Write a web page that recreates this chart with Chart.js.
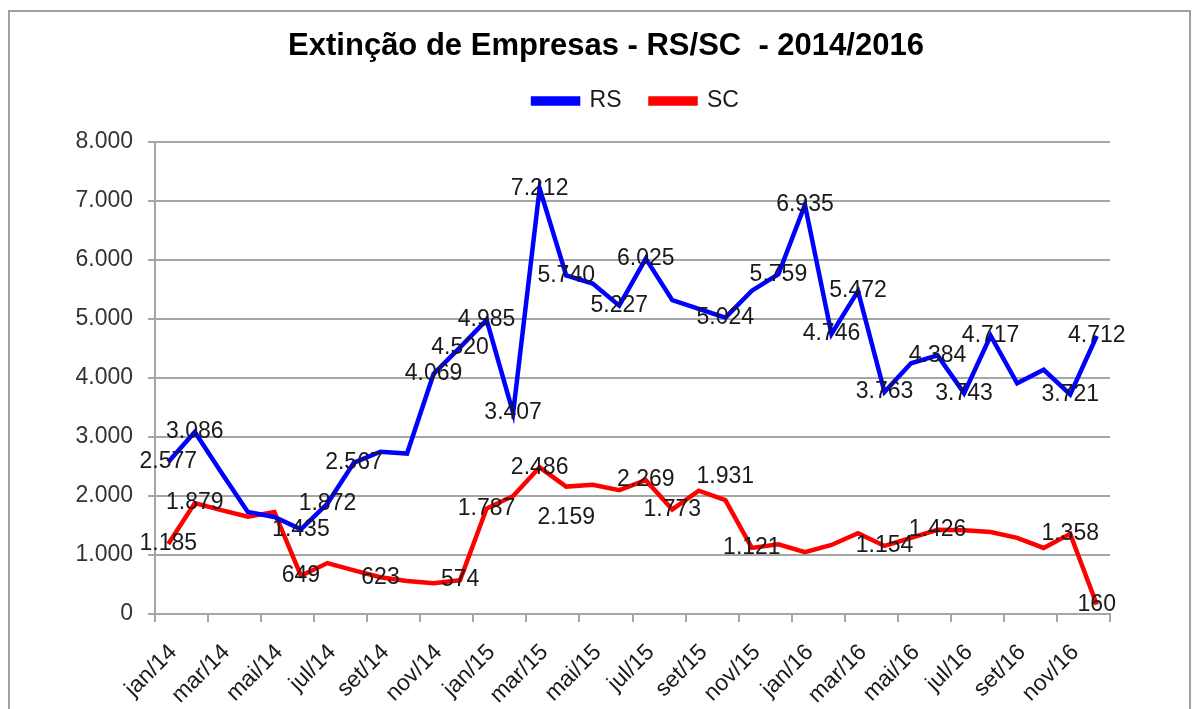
<!DOCTYPE html>
<html lang="pt-BR">
<head>
<meta charset="UTF-8">
<title>Extinção de Empresas - RS/SC - 2014/2016</title>
<script src="https://cdn.jsdelivr.net/npm/chart.js"></script>
<style>
  html, body { margin: 0; padding: 0; background: #fff; }
  #wrap { width: 1198px; height: 709px; }
</style>
</head>
<body>
<div id="wrap"><canvas id="chartCanvas" width="1198" height="709"></canvas></div>
<script>
// meses jan/14 .. dez/16
const months = [
  'jan/14','fev/14','mar/14','abr/14','mai/14','jun/14','jul/14','ago/14','set/14','out/14','nov/14','dez/14',
  'jan/15','fev/15','mar/15','abr/15','mai/15','jun/15','jul/15','ago/15','set/15','out/15','nov/15','dez/15',
  'jan/16','fev/16','mar/16','abr/16','mai/16','jun/16','jul/16','ago/16','set/16','out/16','nov/16','dez/16'
];
const rsValues = [
  2577, 3086, 2400, 1730, 1645, 1435, 1872, 2567, 2750, 2720, 4069, 4520,
  4985, 3407, 7212, 5740, 5600, 5227, 6025, 5320, 5170, 5024, 5480, 5759,
  6935, 4746, 5472, 3763, 4250, 4384, 3743, 4717, 3910, 4140, 3721, 4712
];
const scValues = [
  1185, 1879, 1760, 1650, 1730, 649, 864, 740, 623, 560, 520, 574,
  1787, 2000, 2486, 2159, 2190, 2100, 2269, 1773, 2090, 1931, 1121, 1180,
  1050, 1170, 1370, 1154, 1290, 1426, 1420, 1390, 1290, 1120, 1358, 160
];
// pontos que têm rótulo no gráfico original
const rsLabelIdx = [0,1,5,6,7,10,11,12,13,14,15,17,18,21,23,24,25,26,27,29,30,31,34,35];
const scLabelIdx = [0,1,5,8,11,12,14,15,18,19,21,22,27,29,34,35];
const yTicks = [0, 1000, 2000, 3000, 4000, 5000, 6000, 7000, 8000];

// deslocamento vertical de alguns rótulos (px)
const scLabelShift = { 15: 31, 21: -23 };

const FONT = "'Liberation Sans', Arial, sans-serif";
const GRID = '#a6a6a6';

function fmt(v) {
  return String(v).replace(/\B(?=(\d{3})+(?!\d))/g, '.');
}

const frame = {
  id: 'frame',
  beforeDraw(chart) {
    const c = chart.ctx;
    c.save();
    c.fillStyle = '#fff';
    c.fillRect(0, 0, chart.width, chart.height);
    c.strokeStyle = '#a0a0a0';
    c.lineWidth = 2;
    c.strokeRect(9, 11, 1181, 720);
    c.restore();
  }
};

// título e legenda um pouco deslocados como no original
const nudge = {
  id: 'nudge',
  afterLayout(chart) {
    const t = chart.titleBlock, l = chart.legend;
    if (t) { t.left += 51; t.right += 51; }
    if (l) { l.left += 81; l.right += 81; l.top -= 19.5; l.bottom -= 19.5; }
  }
};

const dataLabels = {
  id: 'dataLabels',
  afterDatasetsDraw(chart) {
    const c = chart.ctx;
    const sets = [[0, rsLabelIdx, {}], [1, scLabelIdx, scLabelShift]];
    c.save();
    c.font = '23px ' + FONT;
    c.fillStyle = '#1a1a1a';
    c.textAlign = 'center';
    c.textBaseline = 'middle';
    sets.forEach(([di, idx, shift]) => {
      const meta = chart.getDatasetMeta(di);
      const vals = chart.data.datasets[di].data;
      idx.forEach(i => {
        const p = meta.data[i];
        c.fillText(fmt(vals[i]), p.x, p.y + (shift[i] || 0));
      });
    });
    c.restore();
  }
};

const ctx = document.getElementById('chartCanvas').getContext('2d');
new Chart(ctx, {
  type: 'line',
  data: {
    labels: months,
    datasets: [
      {
        label: 'RS',
        data: rsValues,
        borderColor: '#0000ff',
        backgroundColor: '#0000ff',
        borderWidth: 4.5,
        pointRadius: 0,
        tension: 0,
        fill: false
      },
      {
        label: 'SC',
        data: scValues,
        borderColor: '#ff0000',
        backgroundColor: '#ff0000',
        borderWidth: 4.5,
        pointRadius: 0,
        tension: 0,
        fill: false
      }
    ]
  },
  options: {
    responsive: false,
    animation: false,
    layout: { padding: { top: 0, left: 0, right: 88, bottom: 0 } },
    plugins: {
      title: {
        display: true,
        text: 'Extinção de Empresas - RS/SC  - 2014/2016',
        color: '#000',
        font: { family: FONT, size: 31, weight: 'bold' },
        padding: { top: 28, bottom: 14.8 }
      },
      legend: {
        display: true,
        labels: {
          color: '#1a1a1a',
          font: { family: FONT, size: 23 },
          boxWidth: 45,
          boxHeight: 5,
          padding: 29
        }
      },
      tooltip: { enabled: false }
    },
    scales: {
      x: {
        type: 'category',
        offset: true,
        afterFit(scale) { scale.height = 95; },
        grid: {
          offset: true,
          drawOnChartArea: false,
          drawTicks: true,
          tickLength: 8,
          lineWidth: 2,
          color: c => (c.index === undefined || c.index % 2 === 0) ? GRID : 'rgba(0,0,0,0)'
        },
        border: { display: true, color: GRID, width: 2 },
        ticks: {
          autoSkip: false,
          minRotation: 45,
          maxRotation: 45,
          padding: 17,
          labelOffset: 5,
          color: '#1a1a1a',
          font: { family: FONT, size: 23 },
          callback: (v, i) => i % 2 === 0 ? months[i] : ''
        }
      },
      y: {
        min: 0,
        max: 8000,
        afterFit(scale) { scale.width = 155; },
        afterBuildTicks(scale) { scale.ticks = yTicks.map(v => ({ value: v })); },
        grid: { color: GRID, lineWidth: 2, tickLength: 7 },
        border: { display: true, color: GRID, width: 2 },
        ticks: {
          padding: 15,
          color: '#333',
          font: { family: FONT, size: 23 },
          callback: v => fmt(v)
        }
      }
    }
  },
  plugins: [frame, nudge, dataLabels]
});
</script>
</body>
</html>
